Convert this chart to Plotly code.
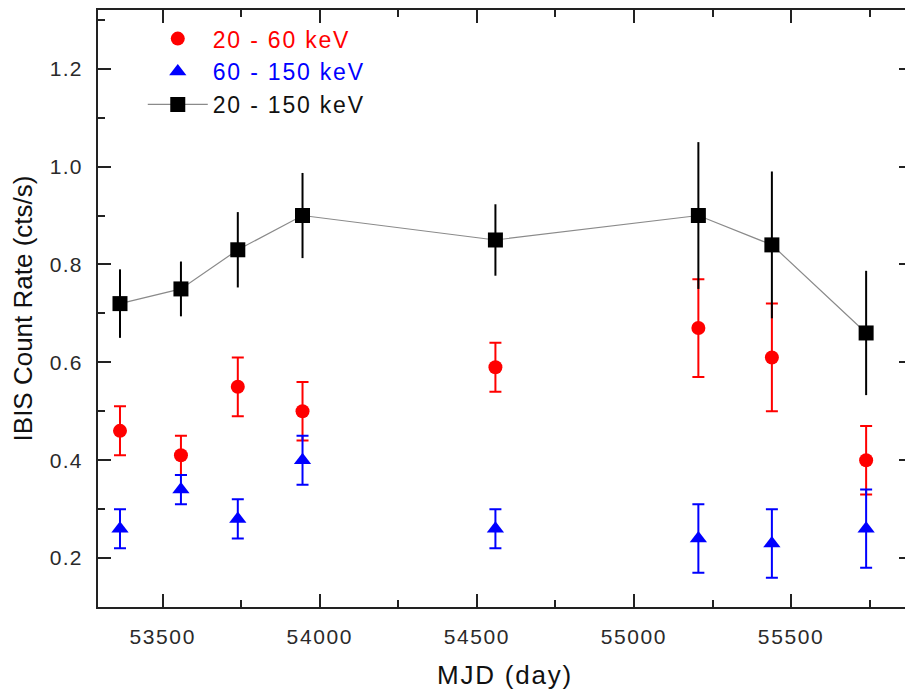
import plotly.graph_objects as go

# MJD of each observation
mjd = [53364, 53558, 53739, 53945, 54559, 55205, 55439, 55739]

# 20 - 60 keV
soft_rate = [0.46, 0.41, 0.55, 0.50, 0.59, 0.67, 0.61, 0.40]
soft_err = [0.05, 0.04, 0.06, 0.06, 0.05, 0.10, 0.11, 0.07]

# 60 - 150 keV
hard_rate = [0.26, 0.34, 0.28, 0.40, 0.26, 0.24, 0.23, 0.26]
hard_err = [0.04, 0.03, 0.04, 0.05, 0.04, 0.07, 0.07, 0.08]

# 20 - 150 keV
total_rate = [0.72, 0.75, 0.83, 0.90, 0.85, 0.90, 0.84, 0.66]
total_err = [0.07, 0.056, 0.077, 0.087, 0.073, 0.15, 0.15, 0.127]

y_ticks = [0.2, 0.4, 0.6, 0.8, 1.0, 1.2]
y_ticklabels = ["0.2", "0.4", "0.6", "0.8", "1.0", "1.2"]
x_ticks = [53500, 54000, 54500, 55000, 55500]
x_ticklabels = ["53500", "54000", "54500", "55000", "55500"]

X_RANGE = [53294, 55885]
Y_RANGE = [0.1, 1.32]

FONT = "Liberation Sans, Arial, sans-serif"
AX = "#222222"


def wide(text, spacing, color=None):
    style = "letter-spacing:%spx" % spacing
    if color:
        style = "color:%s;" % color + style
    return '<span style="%s">%s</span>' % (style, text)


fig = go.Figure()

fig.add_trace(go.Scatter(
    x=mjd, y=soft_rate, mode="markers",
    name=wide("20 - 60 keV", 1.8, "#ff0000"),
    legendgroup="a",
    marker=dict(symbol="circle", size=14, color="#ff0000"),
    error_y=dict(type="data", array=soft_err, color="#ff0000", thickness=2, width=6),
))
fig.add_trace(go.Scatter(
    x=mjd, y=hard_rate, mode="markers",
    name=wide("60 - 150 keV", 1.8, "#0000ff"),
    legendgroup="b",
    marker=dict(symbol="triangle-up", size=15, color="#0000ff"),
    error_y=dict(type="data", array=hard_err, color="#0000ff", thickness=2, width=6),
))
fig.add_trace(go.Scatter(
    x=mjd, y=total_rate, mode="lines+markers",
    name=wide("20 - 150 keV", 1.8, "#111111"),
    legendgroup="c",
    line=dict(color="#8a8a8a", width=1.2),
    marker=dict(symbol="square", size=15, color="#000000"),
    error_y=dict(type="data", array=total_err, color="#000000", thickness=2, width=0),
))
# invisible trace so the mirrored frame axes (top / right) get drawn
fig.add_trace(go.Scatter(
    x=mjd, y=total_rate, mode="markers", xaxis="x2", yaxis="y2",
    marker=dict(opacity=0), showlegend=False, hoverinfo="skip",
))

axis_common = dict(
    showline=True, linecolor=AX, linewidth=2,
    ticks="inside", ticklen=13, tickwidth=2, tickcolor=AX,
    showgrid=False, zeroline=False, automargin=False,
    tickfont=dict(family=FONT, size=21, color="#2a2a2a"),
)
minor_x = dict(ticks="inside", ticklen=7, tickwidth=2, tickcolor=AX, dtick=250, tick0=53250, showgrid=False)
minor_y = dict(ticks="inside", ticklen=7, tickwidth=2, tickcolor=AX, dtick=0.1, tick0=0.1, showgrid=False)

fig.update_layout(
    xaxis=dict(
        **axis_common, range=X_RANGE,
        tickvals=x_ticks, ticktext=[wide(t, 1.6) for t in x_ticklabels], ticklabelstandoff=10,
        minor=minor_x,
        title=dict(text=wide("MJD (day)", 1.8), font=dict(family=FONT, size=26, color="#111111"), standoff=19),
    ),
    yaxis=dict(
        **axis_common, range=Y_RANGE,
        tickvals=y_ticks, ticktext=[wide(t, 1.3) for t in y_ticklabels], ticklabelstandoff=9,
        minor=minor_y,
        title=dict(text="IBIS Count Rate (cts/s)", font=dict(family=FONT, size=26, color="#111111"), standoff=14),
    ),
    xaxis2=dict(
        **axis_common, range=X_RANGE, overlaying="x", side="top", anchor="y2",
        tickvals=x_ticks, showticklabels=False, minor=minor_x,
    ),
    yaxis2=dict(
        **axis_common, range=Y_RANGE, overlaying="y", side="right", anchor="x2",
        tickvals=y_ticks, showticklabels=False, minor=minor_y,
    ),
)

fig.update_layout(
    width=905, height=688,
    margin=dict(l=90, r=1, t=2, b=89),
    plot_bgcolor="white", paper_bgcolor="white",
    showlegend=True,
    legend=dict(
        x=0.055, y=0.988, xanchor="left", yanchor="top",
        bgcolor="rgba(0,0,0,0)", borderwidth=0,
        font=dict(family=FONT, size=23),
        itemwidth=60, tracegroupgap=0,
    ),
)

fig.write_html("out.html")
